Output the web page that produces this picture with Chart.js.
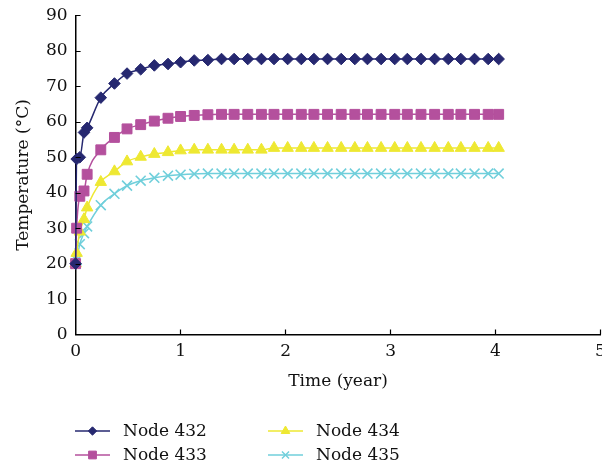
<!DOCTYPE html>
<html>
<head>
<meta charset="utf-8">
<script src="https://cdn.jsdelivr.net/npm/chart.js@4/dist/chart.umd.min.js"></script>
<style>
  html, body { margin: 0; padding: 0; background: #fff; }
  #wrap { width: 602px; height: 470px; }
</style>
</head>
<body>
<div id="wrap"><canvas id="c" width="602" height="470"></canvas></div>
<script>
// Time of each output step (years)
const years = [0, 0.01, 0.04, 0.08, 0.11, 0.24, 0.37, 0.49, 0.62, 0.75, 0.88, 1.00,
  1.13, 1.26, 1.39, 1.51, 1.64, 1.77, 1.89, 2.02, 2.15, 2.27, 2.40, 2.53,
  2.66, 2.78, 2.91, 3.04, 3.16, 3.29, 3.42, 3.55, 3.67, 3.80, 3.93, 4.03];

// Temperature at each node (°C)
const node432 = [20, 49.5, 50, 57, 58.3, 66.8, 70.8, 73.6, 74.8, 75.9, 76.3, 76.8,
  77.3, 77.4, 77.7, 77.7, 77.7, 77.7, 77.7, 77.7, 77.7, 77.7, 77.7, 77.7,
  77.7, 77.7, 77.7, 77.7, 77.7, 77.7, 77.7, 77.7, 77.7, 77.7, 77.7, 77.7];
const node433 = [20, 30, 39, 40.5, 45.2, 52.1, 55.6, 58.0, 59.2, 60.2, 61.0, 61.5,
  61.8, 62.0, 62.1, 62.1, 62.1, 62.1, 62.1, 62.1, 62.1, 62.1, 62.1, 62.1,
  62.1, 62.1, 62.1, 62.1, 62.1, 62.1, 62.1, 62.1, 62.1, 62.1, 62.1, 62.1];
const node434 = [20, 23, 29, 32.5, 35.8, 43, 46, 48.8, 50.1, 50.9, 51.4, 51.9,
  52.1, 52.1, 52.1, 52.1, 52.1, 52.1, 52.6, 52.6, 52.6, 52.6, 52.6, 52.6,
  52.6, 52.6, 52.6, 52.6, 52.6, 52.6, 52.6, 52.6, 52.6, 52.6, 52.6, 52.6];
const node435 = [20, 21, 25.5, 28.6, 30.5, 36.5, 39.7, 42, 43.4, 44.2, 44.8, 45.1,
  45.3, 45.4, 45.4, 45.4, 45.4, 45.4, 45.4, 45.4, 45.4, 45.4, 45.4, 45.4,
  45.4, 45.4, 45.4, 45.4, 45.4, 45.4, 45.4, 45.4, 45.4, 45.4, 45.4, 45.4];

const seriesNames = ['Node 432', 'Node 433', 'Node 434', 'Node 435'];
const xTickValues = [0, 1, 2, 3, 4, 5];
const yTickValues = [0, 10, 20, 30, 40, 50, 60, 70, 80, 90];

const FONT = '"DejaVu Serif", "Liberation Serif", serif';

const styles = [
  { color: '#262870', point: 'rectRot', r: 5.8, lr: 4.2 },
  { color: '#b4509d', point: 'rect', r: 7, lr: 5.5 },
  { color: '#eee832', point: 'triangle', r: 6.6, lr: 5 },
  { color: '#70cfdb', point: 'crossRot', r: 7, lr: 5 }
];

const seriesValues = [node432, node433, node434, node435];

const datasets = seriesValues.map((vals, i) => ({
  label: seriesNames[i],
  data: years.map((t, k) => ({ x: t, y: vals[k] })),
  borderColor: styles[i].color,
  backgroundColor: styles[i].color,
  borderWidth: 1.5,
  pointStyle: styles[i].point,
  pointRadius: styles[i].r,
  pointHoverRadius: styles[i].r,
  pointBorderWidth: styles[i].point === 'crossRot' ? 1.6 : 1,
  pointBorderColor: styles[i].color,
  pointBackgroundColor: styles[i].color,
  cubicInterpolationMode: 'monotone',
  clip: false
}));

// inward tick marks on both axes
const insideTicks = {
  id: 'insideTicks',
  afterDraw(chart) {
    const { ctx, scales: { x, y } } = chart;
    const area = chart.chartArea;
    ctx.save();
    ctx.strokeStyle = '#000';
    ctx.lineWidth = 1.2;
    ctx.beginPath();
    yTickValues.forEach(v => {
      if (v === 0) return;
      const py = Math.round(y.getPixelForValue(v)) + 0.5;
      ctx.moveTo(area.left, py);
      ctx.lineTo(area.left + 5, py);
    });
    xTickValues.forEach(v => {
      if (v === 0) return;
      const px = Math.round(x.getPixelForValue(v)) - 0.5;
      ctx.moveTo(px, area.bottom);
      ctx.lineTo(px, area.bottom - 5);
    });
    ctx.stroke();
    ctx.restore();
  }
};

// two-column legend under the plot: line with a marker, then the name
const lineLegend = {
  id: 'lineLegend',
  afterDraw(chart) {
    const { ctx } = chart;
    const cols = [75, 268];
    const rows = [431, 455];
    const order = [[0, 0, 0], [1, 0, 1], [2, 1, 0], [3, 1, 1]];
    ctx.save();
    order.forEach(([i, c, r]) => {
      const ds = chart.data.datasets[i];
      const st = styles[i];
      const x0 = cols[c], yc = rows[r];
      ctx.strokeStyle = st.color;
      ctx.lineWidth = 1.5;
      ctx.beginPath();
      ctx.moveTo(x0, yc);
      ctx.lineTo(x0 + 35, yc);
      ctx.stroke();
      ctx.fillStyle = st.color;
      ctx.strokeStyle = st.color;
      ctx.lineWidth = st.point === 'crossRot' ? 1.4 : 1;
      Chart.helpers.drawPoint(ctx, {
        pointStyle: st.point, radius: st.lr, rotation: 0, borderWidth: ctx.lineWidth
      }, x0 + 17.5, yc);
      ctx.fillStyle = '#111';
      ctx.font = '17px ' + FONT;
      ctx.textBaseline = 'middle';
      ctx.textAlign = 'left';
      ctx.fillText(ds.label, x0 + 48, yc + 1);
    });
    ctx.restore();
  }
};

Chart.defaults.font.family = FONT;
Chart.defaults.color = '#111';

new Chart(document.getElementById('c'), {
  type: 'line',
  data: { datasets },
  options: {
    responsive: false,
    devicePixelRatio: 1,
    animation: false,
    events: [],
    layout: { autoPadding: false, padding: { top: 15.4, right: 1.5, bottom: 78.4, left: 0 } },
    plugins: { legend: { display: false }, tooltip: { enabled: false } },
    scales: {
      x: {
        type: 'linear',
        min: 0, max: 5,
        afterBuildTicks: s => { s.ticks = xTickValues.map(v => ({ value: v })); },
        afterFit: s => { s.height = 57; s.paddingLeft = 0; s.paddingRight = 0; },
        grid: { display: false, drawTicks: false },
        border: { display: true, color: '#000', width: 1.5 },
        ticks: { padding: 7, font: { size: 17 }, color: '#111', maxRotation: 0 },
        title: { display: true, text: 'Time (year)', font: { size: 17 }, color: '#111', padding: { top: 4, bottom: 0 } }
      },
      y: {
        type: 'linear',
        min: 0, max: 90,
        afterBuildTicks: s => { s.ticks = yTickValues.map(v => ({ value: v })); },
        afterFit: s => { s.width = 75.6; s.paddingTop = 0; s.paddingBottom = 0; },
        grid: { display: false, drawTicks: false },
        border: { display: true, color: '#000', width: 1.5 },
        ticks: { padding: 8, font: { size: 17 }, color: '#111' },
        title: { display: true, text: 'Temperature (°C)', font: { size: 17 }, color: '#111', padding: { top: 13.8, bottom: 0 } }
      }
    }
  },
  plugins: [insideTicks, lineLegend]
});
</script>
</body>
</html>
